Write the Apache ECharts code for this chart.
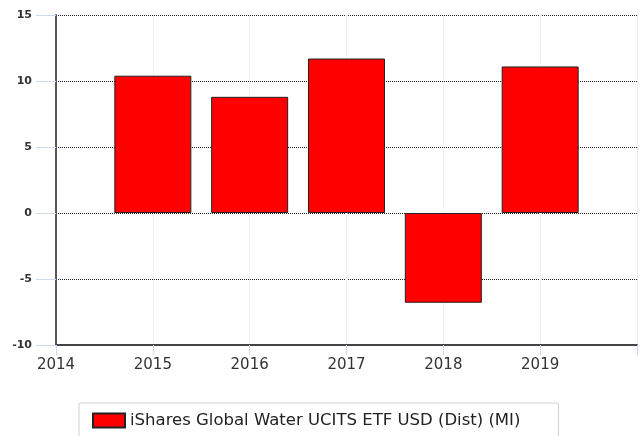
<!DOCTYPE html>
<html>
<head>
<meta charset="utf-8">
<script src="https://cdn.jsdelivr.net/npm/echarts@6/dist/echarts.min.js"></script>
<style>
  html, body { margin: 0; padding: 0; background: #fff; }
  #chart { width: 640px; height: 436px; }
</style>
</head>
<body>
<div id="chart"></div>
<script>
// yearly returns (%)
const years = [2015, 2016, 2017, 2018, 2019];
const returns = [10.4, 8.8, 11.7, -6.8, 11.1];
const seriesName = 'iShares Global Water UCITS ETF USD (Dist) (MI)';

let myChart = echarts.init(document.getElementById('chart'));

let option = {
  animation: false,
  textStyle: { fontFamily: 'DejaVu Sans' },
  grid: { left: 56, right: 3, top: 15, bottom: 91 },
  legend: {
    data: [{ name: seriesName, icon: 'rect' }],
    left: 79,
    top: 403,
    padding: [9, 38, 12, 13],
    borderColor: '#d0d0d0',
    borderWidth: 1,
    itemWidth: 32,
    itemHeight: 14,
    itemGap: 5,
    textStyle: { fontSize: 16.5, color: '#222', fontFamily: 'DejaVu Sans' }
  },
  xAxis: {
    type: 'value',
    min: 2014,
    max: 2020,
    interval: 1,
    axisLine: { onZero: false, lineStyle: { color: '#444', width: 2 } },
    axisTick: { show: true, length: 10, lineStyle: { color: '#c8dbf1' } },
    axisLabel: {
      margin: 13,
      fontSize: 15,
      color: '#333',
      formatter: v => (v >= 2020 ? '' : String(v))
    },
    splitLine: { show: true, lineStyle: { color: '#d6e4f4', type: 'dotted' } }
  },
  yAxis: {
    type: 'value',
    min: -10,
    max: 15,
    interval: 5,
    axisLine: { show: true, lineStyle: { color: '#555', width: 2 } },
    axisTick: { show: true, length: 20, lineStyle: { color: '#c8dbf1' } },
    axisLabel: { margin: 24, fontSize: 11, fontWeight: 'bold', color: '#333' },
    splitLine: { show: true, lineStyle: { color: '#222', type: 'dotted' } }
  },
  series: [
    {
      name: seriesName,
      type: 'bar',
      barWidth: 77,
      data: years.map((y, i) => [y, returns[i]]),
      itemStyle: { color: '#ff0000', borderColor: '#222', borderWidth: 1 }
    }
  ]
};

myChart.setOption(option);
</script>
</body>
</html>
